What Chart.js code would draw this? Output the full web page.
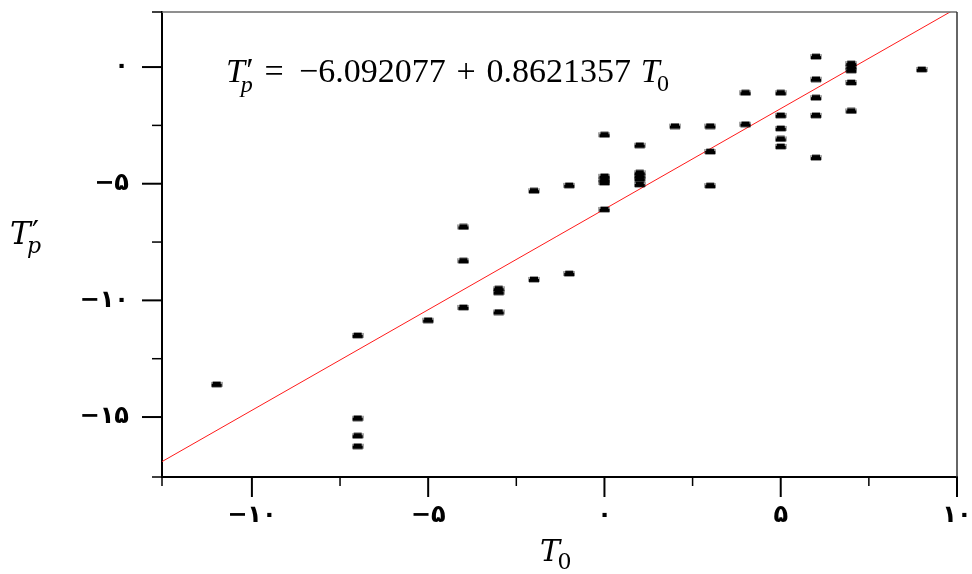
<!DOCTYPE html>
<html>
<head>
<meta charset="utf-8">
<script src="https://cdn.jsdelivr.net/npm/chart.js@4.4.1/dist/chart.umd.min.js"></script>
<style>
  html, body { margin: 0; padding: 0; background: #fff; }
  canvas { display: block; }
</style>
</head>
<body>
<canvas id="c" width="972" height="574" style="width:972px;height:574px"></canvas>
<script>
// ---- data ----
const xVals = [
  -11,
  -7, -7, -7, -7,
  -5,
  -4, -4, -4,
  -3, -3, -3,
  -2, -2,
  -1, -1,
  0, 0, 0, 0, 0,
  1, 1, 1, 1, 1,
  2,
  3, 3, 3,
  4, 4,
  5, 5, 5, 5, 5,
  6, 6, 6, 6, 6,
  7, 7, 7, 7, 7,
  9
];
const yVals = [
  -13.6,
  -11.5, -15.05, -15.8, -16.25,
  -10.85,
  -6.85, -8.3, -10.3,
  -9.5, -9.65, -10.5,
  -5.3, -9.1,
  -5.07, -8.85,
  -2.9, -4.68, -4.83, -4.95, -6.1,
  -3.35, -4.53, -4.67, -4.8, -5.03,
  -2.53,
  -2.53, -3.62, -5.08,
  -1.1, -2.45,
  -1.1, -2.07, -2.63, -3.08, -3.4,
  0.45, -0.52, -1.31, -2.07, -3.88,
  0.15, 0.0, -0.14, -0.66, -1.88,
  -0.1
];
// fitted line end points (T'p = -6.092077 + 0.8621357 T0)
const fitX = [-12.55, 10];
const fitY = [-16.91, 2.53];
const eqPieces = ['=', '\u22126.092077', '+', '0.8621357'];
const xTickVals = [-12.55, -10, -7.5, -5, -2.5, 0, 2.5, 5, 7.5, 10];
const yTickVals = [-17.57, -15, -12.5, -10, -7.5, -5, -2.5, 0, 2.36];
const xRange = [-12.55, 10];
const yRange = [-17.57, 2.36];

// ---- helpers ----
const faDigits = '۰۱۲۳۴۵۶۷۸۹';
function isMajor(v) { return Math.abs(v / 5 - Math.round(v / 5)) < 1e-9; }
function faLabel(v) {
  if (!isMajor(v)) return '';
  const n = Math.round(v);
  const s = String(Math.abs(n)).replace(/[0-9]/g, d => faDigits[d]);
  return (n < 0 ? '\u2212' : '') + s;
}
function makeMarker() {
  const c = document.createElement('canvas');
  c.width = 12; c.height = 7;
  const g = c.getContext('2d');
  g.fillStyle = 'rgba(0,0,0,0.35)';
  g.fillRect(0, 0, 12, 7);
  g.clearRect(0, 0, 2, 1); g.clearRect(10, 0, 2, 1);
  g.clearRect(0, 6, 1, 1); g.clearRect(11, 6, 1, 1);
  g.fillStyle = '#000';
  g.fillRect(2, 1, 8, 2);
  g.fillRect(1, 3, 10, 3);
  return c;
}
const marker = makeMarker();

let SERIF = '"DejaVu Serif", "Liberation Serif", serif';
function measureTp(ctx, F) {
  ctx.font = 'italic ' + F + 'px ' + SERIF;
  const wT = ctx.measureText('T').width;
  ctx.font = F + 'px ' + SERIF;
  const wPr = ctx.measureText('\u2032').width;
  ctx.font = 'italic ' + Math.round(F * 0.72) + 'px ' + SERIF;
  const wp = ctx.measureText('p').width;
  return { wT, wPr, wp, w: wT + Math.max(wPr + 0.04 * F, wp - 0.12 * F) };
}
function drawTp(ctx, x, base, F) {
  const m = measureTp(ctx, F);
  ctx.font = 'italic ' + F + 'px ' + SERIF;
  ctx.fillText('T', x, base);
  ctx.font = F + 'px ' + SERIF;
  ctx.fillText('\u2032', x + m.wT + 0.04 * F, base - 0.04 * F);
  ctx.font = 'italic ' + Math.round(F * 0.72) + 'px ' + SERIF;
  ctx.fillText('p', x + m.wT - 0.12 * F, base + 0.3 * F);
  return m.w;
}
function measureT0(ctx, F) {
  ctx.font = 'italic ' + F + 'px ' + SERIF;
  const wT = ctx.measureText('T').width;
  ctx.font = Math.round(F * 0.72) + 'px ' + SERIF;
  return wT - 0.08 * F + ctx.measureText('0').width;
}
function measurePlain(ctx, F, s) {
  ctx.font = F + 'px ' + SERIF;
  return ctx.measureText(s).width;
}
function drawT0(ctx, x, base, F) {
  ctx.font = 'italic ' + F + 'px ' + SERIF;
  ctx.fillText('T', x, base);
  const wT = ctx.measureText('T').width;
  ctx.font = Math.round(F * 0.72) + 'px ' + SERIF;
  ctx.fillText('0', x + wT - 0.08 * F, base + 0.25 * F);
  return wT - 0.08 * F + ctx.measureText('0').width;
}

const decorPlugin = {
  id: 'decor',
  afterDraw(chart) {
    const ctx = chart.ctx;
    const a = chart.chartArea;
    const xs = chart.scales.x, ys = chart.scales.y;
    ctx.save();
    // top and right frame lines
    ctx.lineWidth = 1.5;
    ctx.strokeStyle = '#6a6a6a';
    ctx.beginPath(); ctx.moveTo(a.left, a.top); ctx.lineTo(a.right, a.top); ctx.stroke();
    ctx.strokeStyle = '#333';
    ctx.beginPath(); ctx.moveTo(a.right, a.top); ctx.lineTo(a.right, a.bottom); ctx.stroke();
    // tick marks
    ctx.strokeStyle = '#000';
    xs.ticks.forEach(t => {
      const px = xs.getPixelForValue(t.value);
      const L = isMajor(t.value) ? 20 : 9;
      ctx.lineWidth = isMajor(t.value) ? 2 : 1.5;
      ctx.beginPath(); ctx.moveTo(px, a.bottom); ctx.lineTo(px, a.bottom + L); ctx.stroke();
    });
    ys.ticks.forEach(t => {
      const py = ys.getPixelForValue(t.value);
      const L = isMajor(t.value) ? 20 : 10;
      ctx.lineWidth = isMajor(t.value) ? 2 : 1.5;
      ctx.beginPath(); ctx.moveTo(a.left, py); ctx.lineTo(a.left - L, py); ctx.stroke();
    });
    // texts
    ctx.fillStyle = '#000';
    ctx.textAlign = 'left';
    ctx.textBaseline = 'alphabetic';
    // equation: fixed size, gaps stretched to the reference's span
    const saved = SERIF;
    SERIF = '"Liberation Serif", "DejaVu Serif", serif';
    const x0 = 226, x1 = 669, base = 82, F = 34;
    const wTp = measureTp(ctx, F).w;
    const wT0 = measureT0(ctx, F);
    const wp = eqPieces.map(s => measurePlain(ctx, F, s));
    const weights = [1, 1.4, 1, 1, 0.9];
    const wsum = weights.reduce((p, c) => p + c, 0);
    const free = Math.max(0, (x1 - x0) - wTp - wT0 - wp.reduce((p, c) => p + c, 0));
    const unit = free / wsum;
    let x = x0;
    drawTp(ctx, x, base, F);
    x += wTp + weights[0] * unit;
    eqPieces.forEach((s, i) => {
      ctx.font = F + 'px ' + SERIF;
      ctx.fillText(s, x, base);
      x += wp[i] + weights[i + 1] * unit;
    });
    drawT0(ctx, x, base, F);
    SERIF = saved;
    // axis titles
    drawTp(ctx, 10, 244, 31);
    drawT0(ctx, 540, 561, 30);
    ctx.restore();
  }
};

new Chart(document.getElementById('c'), {
  type: 'scatter',
  data: {
    datasets: [
      {
        type: 'line',
        data: fitX.map((v, i) => ({ x: v, y: fitY[i] })),
        borderColor: '#ff1a1a',
        borderWidth: 1,
        pointRadius: 0,
        fill: false,
        order: 2
      },
      {
        data: xVals.map((v, i) => ({ x: v, y: yVals[i] })),
        pointStyle: marker,
        pointRadius: 5,
        order: 1
      }
    ]
  },
  options: {
    responsive: false,
    animation: false,
    devicePixelRatio: 1,
    layout: { padding: { top: 12, right: 15, left: 0, bottom: 0 } },
    plugins: { legend: { display: false }, tooltip: { enabled: false } },
    scales: {
      x: {
        type: 'linear',
        min: xRange[0], max: xRange[1],
        afterBuildTicks: s => { s.ticks = xTickVals.map(v => ({ value: v })); },
        afterFit: s => { s.height = 97; s.paddingLeft = 0; s.paddingRight = 0; },
        grid: { display: true, drawOnChartArea: false, drawTicks: true, tickLength: 20, tickColor: 'rgba(0,0,0,0)' },
        border: { display: true, color: '#000', width: 2 },
        ticks: {
          autoSkip: false, maxRotation: 0, padding: 4,
          color: '#000',
          font: { family: '"DejaVu Sans"', size: 24, weight: 'bold' },
          callback: v => faLabel(v)
        }
      },
      y: {
        type: 'linear',
        min: yRange[0], max: yRange[1],
        afterBuildTicks: s => { s.ticks = yTickVals.map(v => ({ value: v })); },
        afterFit: s => { s.width = 162; s.paddingTop = 0; s.paddingBottom = 0; },
        grid: { display: true, drawOnChartArea: false, drawTicks: true, tickLength: 20, tickColor: 'rgba(0,0,0,0)' },
        border: { display: true, color: '#000', width: 2 },
        ticks: {
          autoSkip: false, padding: 13,
          color: '#000',
          font: { family: '"DejaVu Sans"', size: 24, weight: 'bold' },
          callback: v => faLabel(v)
        }
      }
    }
  },
  plugins: [decorPlugin]
});
</script>
</body>
</html>
